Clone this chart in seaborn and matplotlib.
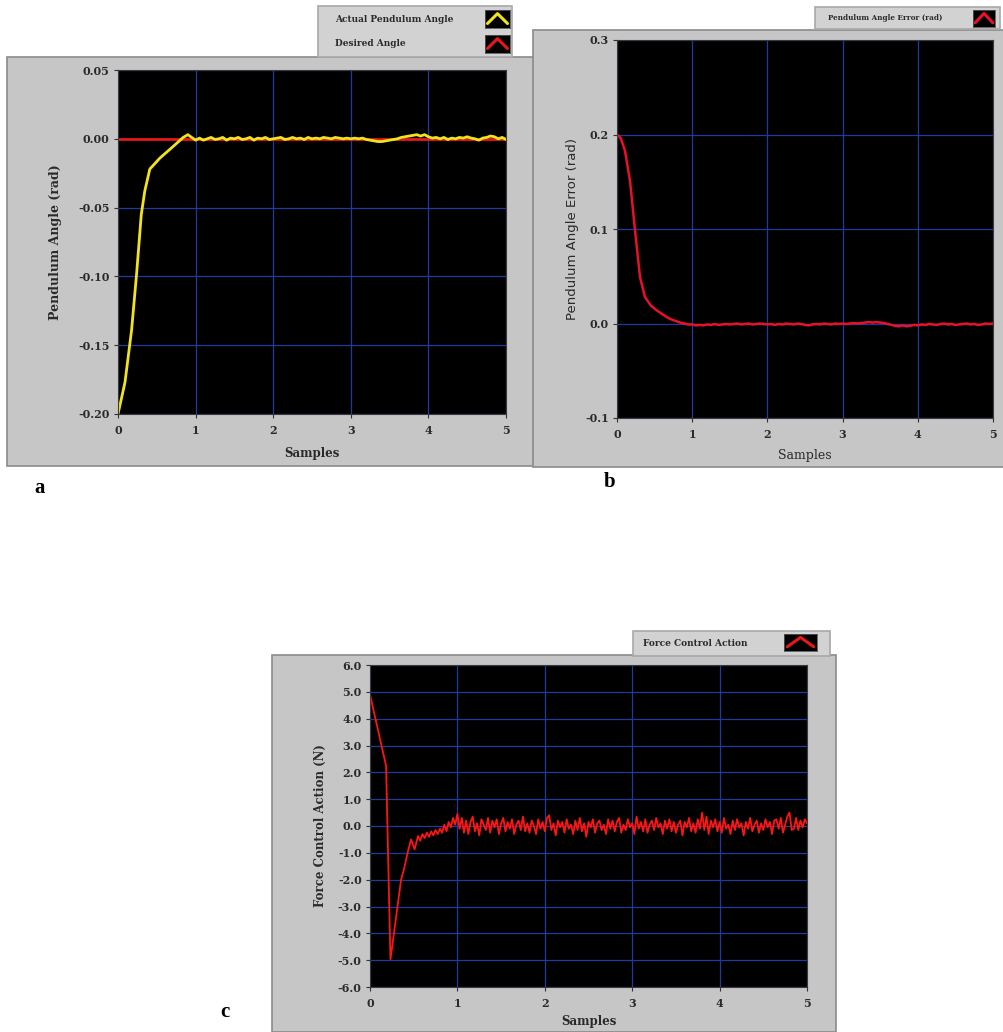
import numpy as np
import pandas as pd
import matplotlib
matplotlib.use("Agg")
import matplotlib.pyplot as plt
from matplotlib.patches import Rectangle
from matplotlib.ticker import FormatStrFormatter
import seaborn as sns

# ---------------- data ----------------
# (a) pendulum angle: transient part, then the settled part (1.05 .. 5.0, step 0.05)
angle_rise_t = [0.0, 0.09, 0.175, 0.24, 0.30, 0.345, 0.41, 0.54, 0.69, 0.84, 0.90, 1.0]
angle_rise_v = [-0.200, -0.177, -0.139, -0.098, -0.055, -0.038, -0.022, -0.014,
                -0.0066, 0.001, 0.003, -0.001]
angle_settled_v = [
    0.0005, -0.0010, 0.0000, 0.0010, -0.0005, 0.0000, 0.0010, -0.0010, 0.0005, 0.0000,
    0.0010, -0.0005, 0.0000, 0.0010, -0.0010, 0.0005, 0.0000, 0.0010, -0.0005, 0.0000,
    0.0005, 0.0010, -0.0005, 0.0000, 0.0010, 0.0000, 0.0005, -0.0005, 0.0010, 0.0000,
    0.0005, 0.0000, 0.0010, 0.0005, 0.0000, 0.0010, 0.0005, 0.0000, 0.0005, 0.0000,
    0.0005, 0.0000, 0.0005, -0.0005, -0.0010, -0.0015, -0.0020, -0.0020, -0.0015, -0.0010,
    -0.0005, 0.0000, 0.0010, 0.0015, 0.0020, 0.0025, 0.0030, 0.0020, 0.0030, 0.0015,
    0.0005, 0.0010, 0.0000, 0.0010, -0.0005, 0.0005, 0.0000, 0.0010, 0.0005, 0.0015,
    0.0005, 0.0000, -0.0010, 0.0005, 0.0010, 0.0020, 0.0015, 0.0000, 0.0010, -0.0005,
]
desired_t = [0.0, 5.0]
desired_v = [0.0, 0.0]

# (b) pendulum angle error: decay, then the settled part (1.0 .. 5.0, step 0.05)
error_decay_t = [0.0, 0.05, 0.106, 0.173, 0.24, 0.306, 0.372, 0.45, 0.53, 0.62, 0.70, 0.84, 0.95]
error_decay_v = [0.200, 0.196, 0.183, 0.151, 0.0985, 0.049, 0.028, 0.019, 0.0138,
                 0.009, 0.005, 0.001, -0.001]
error_settled_v = [
    -0.0010, -0.0020, -0.0015, -0.0020, -0.0010, -0.0015, -0.0005, -0.0015, -0.0010, -0.0005,
    -0.0010, -0.0005, 0.0000, -0.0010, -0.0005, 0.0000, -0.0010, -0.0005, 0.0000, -0.0005,
    -0.0010, -0.0005, -0.0015, -0.0005, -0.0010, 0.0000, -0.0005, -0.0010, 0.0000, -0.0005,
    -0.0015, -0.0020, -0.0010, -0.0005, -0.0010, 0.0000, -0.0005, -0.0010, 0.0000, -0.0005,
    0.0000, -0.0005, 0.0000, 0.0005, 0.0000, 0.0005, 0.0010, 0.0015, 0.0010, 0.0015,
    0.0010, 0.0005, -0.0005, -0.0015, -0.0025, -0.0030, -0.0020, -0.0030, -0.0025, -0.0015,
    -0.0020, -0.0010, -0.0015, -0.0005, -0.0010, -0.0015, -0.0005, 0.0000, -0.0010, -0.0005,
    -0.0015, -0.0010, -0.0005, 0.0000, -0.0010, -0.0005, -0.0015, -0.0010, 0.0000, -0.0005,
    0.0000,
]

# (c) force control action: transient, then the settled part (1.0 .. 5.0, step 0.025)
force_trans_t = [0.0, 0.184, 0.19, 0.234, 0.30, 0.356, 0.39, 0.43, 0.47, 0.51,
                 0.55, 0.575, 0.60, 0.625, 0.65, 0.675, 0.70, 0.725, 0.75, 0.775,
                 0.80, 0.825, 0.85, 0.875, 0.90, 0.925, 0.95, 0.975]
force_trans_v = [4.9, 2.24, 1.37, -4.97, -3.36, -1.99, -1.6, -1.0, -0.5, -0.87,
                 -0.37, -0.55, -0.30, -0.45, -0.25, -0.40, -0.20, -0.35, -0.15, -0.30,
                 -0.10, -0.25, 0.05, -0.20, 0.15, -0.05, 0.30, 0.05]
force_settled_v = [
    0.45, -0.10, 0.30, -0.25, 0.20, -0.30, 0.15, 0.35, -0.20, 0.10,
    -0.35, 0.25, 0.05, -0.15, 0.30, -0.25, 0.20, -0.05, 0.25, -0.30,
    0.10, 0.30, -0.20, 0.15, -0.10, 0.25, -0.30, 0.05, 0.20, -0.15,
    0.35, -0.20, 0.10, -0.25, 0.20, 0.00, -0.30, 0.25, -0.10, 0.15,
    -0.20, 0.30, 0.40, -0.15, 0.10, -0.35, 0.20, -0.05, 0.15, -0.25,
    0.25, -0.10, 0.05, -0.30, 0.20, -0.15, 0.30, -0.20, 0.10, -0.40,
    0.15, -0.05, 0.25, -0.25, 0.10, 0.20, -0.15, 0.05, -0.30, 0.25,
    -0.10, 0.20, -0.20, 0.15, 0.30, -0.25, 0.05, -0.15, 0.25, -0.05,
    0.10, -0.30, 0.35, -0.10, 0.15, -0.20, 0.25, -0.25, 0.05, 0.20,
    -0.15, 0.30, -0.05, 0.10, -0.30, 0.20, -0.10, 0.25, -0.20, 0.15,
    -0.25, 0.05, 0.20, -0.35, 0.15, -0.05, 0.30, -0.20, 0.10, -0.25,
    0.25, -0.10, 0.50, -0.15, 0.35, -0.30, 0.20, -0.05, 0.25, -0.20,
    0.15, -0.25, 0.30, -0.10, 0.05, -0.30, 0.20, -0.15, 0.25, -0.05,
    0.10, -0.35, 0.15, -0.10, 0.30, -0.20, 0.05, 0.20, -0.25, 0.10,
    -0.15, 0.25, -0.05, 0.15, -0.30, 0.20, 0.25, -0.10, 0.30, -0.25,
    0.05, 0.35, 0.50, -0.15, -0.10, 0.30, -0.15, 0.20, -0.05, 0.25,
    0.10,
]

x_ticks = [0, 1, 2, 3, 4, 5]
angle_ticks = [-0.20, -0.15, -0.10, -0.05, 0.00, 0.05]
error_ticks = [-0.1, 0.0, 0.1, 0.2, 0.3]
force_ticks = [-6.0, -5.0, -4.0, -3.0, -2.0, -1.0, 0.0, 1.0, 2.0, 3.0, 4.0, 5.0, 6.0]

# ---------------- assemble series ----------------
angle_t = angle_rise_t + list(np.round(np.linspace(1.05, 5.0, len(angle_settled_v)), 3))
angle_df = pd.DataFrame({"t": angle_t, "v": angle_rise_v + angle_settled_v})
desired_df = pd.DataFrame({"t": desired_t, "v": desired_v})
error_t = error_decay_t + list(np.round(np.linspace(1.0, 5.0, len(error_settled_v)), 3))
error_df = pd.DataFrame({"t": error_t, "v": error_decay_v + error_settled_v})
force_t = force_trans_t + list(np.round(np.linspace(1.0, 5.0, len(force_settled_v)), 3))
force_df = pd.DataFrame({"t": force_t, "v": force_trans_v + force_settled_v})

# ---------------- style ----------------
sns.set_theme(style="white")
plt.rcParams["font.family"] = ["DejaVu Serif"]
plt.rcParams["axes.unicode_minus"] = False

W, H = 1004, 1032
fig = plt.figure(figsize=(W / 100, H / 100), dpi=100, facecolor="white")


def frect(x0, y0, x1, y1):
    return [x0 / W, 1 - y1 / H, (x1 - x0) / W, (y1 - y0) / H]


def panel(x0, y0, x1, y1, face="#c6c6c6", edge="#8a8a8a", z=-10):
    r = Rectangle((x0 / W, 1 - y1 / H), (x1 - x0) / W, (y1 - y0) / H,
                  transform=fig.transFigure, facecolor=face, edgecolor=edge,
                  linewidth=1.2, zorder=z)
    fig.add_artist(r)


# instrument panels
panel(7, 57, 534, 466)
panel(533, 30, 1004, 467)
panel(272, 655, 836, 1032)
# legend boxes
panel(318, 6, 512, 57, face="#d2d2d2", edge="#a8a8a8", z=-9)
panel(815, 7, 1000, 29, face="#d2d2d2", edge="#a8a8a8", z=-9)
panel(633, 631, 830, 656, face="#d2d2d2", edge="#a8a8a8", z=-9)

GRID = "#1f3c9c"
TICKFONT = dict(family="DejaVu Serif", weight="bold", size=8)


def style_axes(ax, xlim, ylim, yticks, yfmt):
    ax.set_facecolor("black")
    ax.set_xlim(*xlim)
    ax.set_ylim(*ylim)
    ax.set_xticks(x_ticks)
    ax.set_yticks(yticks)
    ax.yaxis.set_major_formatter(FormatStrFormatter(yfmt))
    ax.xaxis.set_major_formatter(FormatStrFormatter("%d"))
    ax.grid(True, color=GRID, linewidth=0.9)
    ax.set_axisbelow(True)
    for s in ax.spines.values():
        s.set_color("#3a3a3a")
        s.set_linewidth(0.8)
    ax.tick_params(axis="both", which="major", direction="out", length=3,
                   width=0.8, color="#333333", pad=3, labelcolor="#2a2a2a",
                   bottom=True, left=True)
    for lab in ax.get_xticklabels() + ax.get_yticklabels():
        lab.set_fontproperties(TICKFONT)
    ax.tick_params(axis="x", pad=5)


def place_labels(ax, box, xlab_y, ylab_x):
    x0, y0, x1, y1 = box
    ax.xaxis.set_label_coords(0.5, (y1 - xlab_y) / (y1 - y0))
    ax.yaxis.set_label_coords((ylab_x - x0) / (x1 - x0), 0.5)
    ax.xaxis.label.set_va("center")
    ax.yaxis.label.set_va("center")


def swatch(x0, y0, x1, y1, color):
    sw = fig.add_axes(frect(x0, y0, x1, y1))
    sw.set_facecolor("black")
    sw.plot([0.1, 0.5, 0.9], [0.25, 0.8, 0.25], color=color, lw=2.2)
    sw.set_xlim(0, 1)
    sw.set_ylim(0, 1)
    sw.set_xticks([])
    sw.set_yticks([])
    for s in sw.spines.values():
        s.set_color("#555555")
        s.set_linewidth(0.6)


LABFONT = dict(family="DejaVu Serif", weight="bold", color="#2a2a2a")

# ---------------- (a) ----------------
box_a = (118, 70, 506, 414)
ax_a = fig.add_axes(frect(*box_a))
sns.lineplot(data=desired_df, x="t", y="v", ax=ax_a, color="#e81818", lw=2.0,
             estimator=None, sort=False)
sns.lineplot(data=angle_df, x="t", y="v", ax=ax_a, color="#f2e41c", lw=2.0,
             estimator=None, sort=False)
style_axes(ax_a, (0, 5), (-0.20, 0.05), angle_ticks, "%.2f")
ax_a.set_xlabel("Samples", fontsize=8.5, **LABFONT)
ax_a.set_ylabel("Pendulum Angle (rad)", fontsize=9, **LABFONT)
place_labels(ax_a, box_a, 453, 55)

fig.text(335 / W, 1 - 19 / H, "Actual Pendulum Angle", fontsize=6.5, va="center",
         ha="left", **LABFONT)
fig.text(335 / W, 1 - 43 / H, "Desired Angle", fontsize=6.5, va="center",
         ha="left", **LABFONT)
swatch(485, 10, 510, 28, "#f2e41c")
swatch(485, 35, 510, 53, "#e81818")

# ---------------- (b) ----------------
box_b = (617, 40, 993, 418)
ax_b = fig.add_axes(frect(*box_b))
sns.lineplot(data=error_df, x="t", y="v", ax=ax_b, color="#e8102a", lw=1.8,
             estimator=None, sort=False)
style_axes(ax_b, (0, 5), (-0.1, 0.3), error_ticks, "%.1f")
ax_b.set_xlabel("Samples", fontsize=9, family="DejaVu Serif", color="#2a2a2a")
ax_b.set_ylabel("Pendulum Angle Error (rad)", fontsize=9.5, family="DejaVu Sans",
                color="#2a2a2a")
place_labels(ax_b, box_b, 455, 573)

fig.text(828 / W, 1 - 18 / H, "Pendulum Angle Error (rad)", fontsize=5.2,
         va="center", ha="left", **LABFONT)
swatch(973, 10, 995, 27, "#e8102a")

# ---------------- (c) ----------------
box_c = (370, 665, 807, 987)
ax_c = fig.add_axes(frect(*box_c))
sns.lineplot(data=force_df, x="t", y="v", ax=ax_c, color="#ff1414", lw=1.3,
             estimator=None, sort=False)
style_axes(ax_c, (0, 5), (-6.0, 6.0), force_ticks, "%.1f")
ax_c.set_xlabel("Samples", fontsize=8.5, **LABFONT)
ax_c.set_ylabel("Force Control Action (N)", fontsize=8.5, **LABFONT)
place_labels(ax_c, box_c, 1022, 320)

fig.text(643 / W, 1 - 644 / H, "Force Control Action", fontsize=6.5, va="center",
         ha="left", **LABFONT)
swatch(784, 634, 817, 651, "#e81818")

# ---------------- sub-figure letters ----------------
for letter, (px, py) in {"a": (40, 488), "b": (610, 482), "c": (225, 1012)}.items():
    fig.text(px / W, 1 - py / H, letter, fontsize=15, fontweight="bold",
             family="Liberation Serif", ha="center", va="center", color="black")

fig.savefig("out.png", dpi=100, facecolor="white")
